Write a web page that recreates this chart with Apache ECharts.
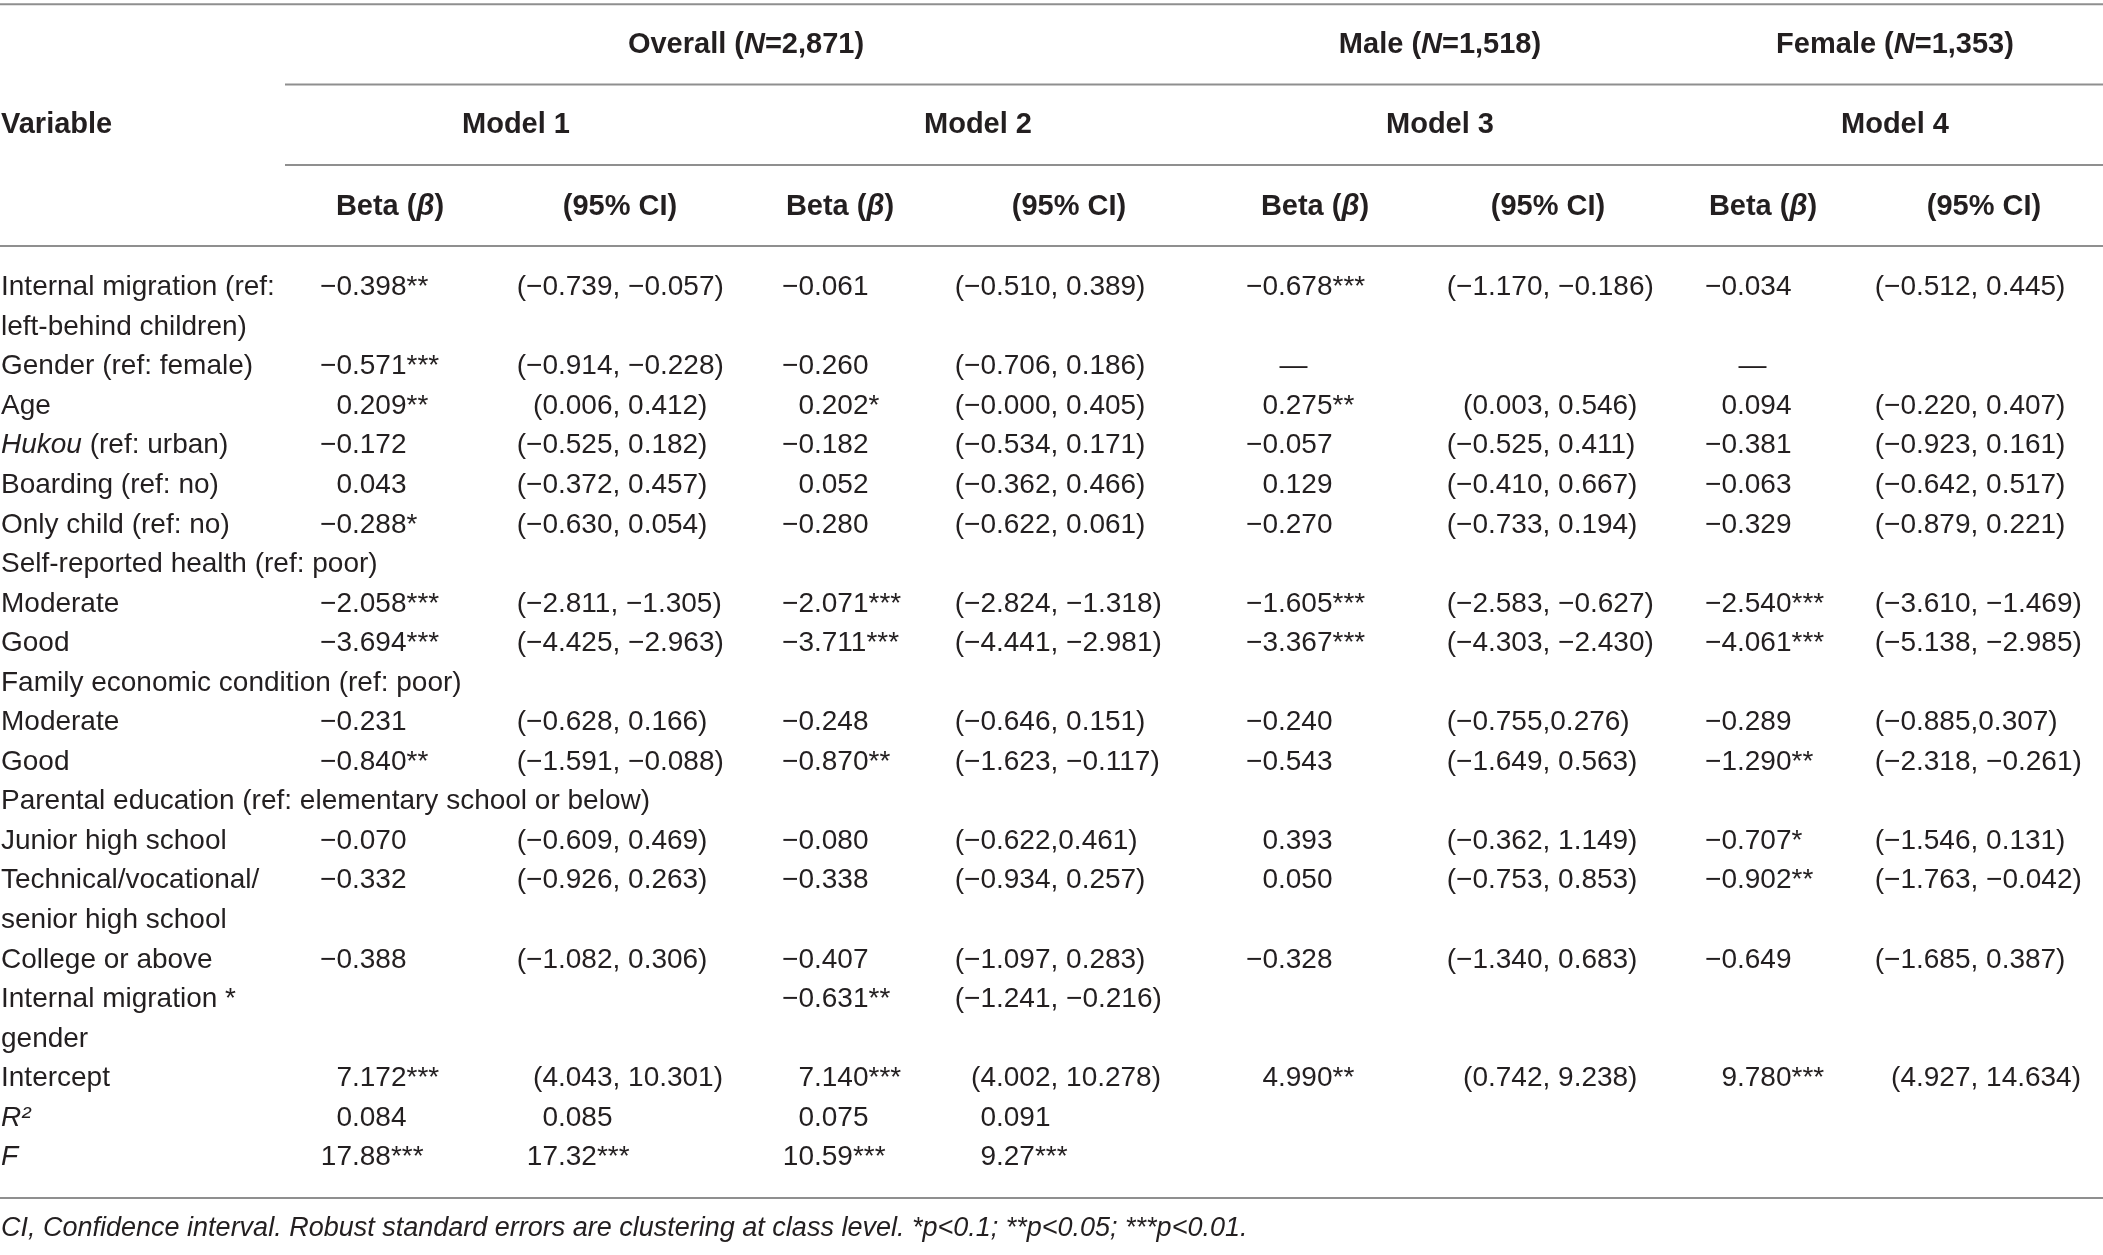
<!DOCTYPE html>
<html>
<head>
<meta charset="utf-8">
<title>Internal migration regression table</title>
<script src="https://cdn.jsdelivr.net/npm/echarts@6/dist/echarts.min.js"></script>
<style>
  html, body { margin: 0; padding: 0; background: #ffffff; }
  #main { width: 2103px; height: 1255px; }
</style>
</head>
<body>
<div id="main"></div>
<script>
// ---- table content, one entry per printed line ----
const variableLines = [
    'Internal migration (ref:', 'left-behind children)', 'Gender (ref: female)', 'Age',
    '{i|Hukou} (ref: urban)', 'Boarding (ref: no)', 'Only child (ref: no)',
    'Self-reported health (ref: poor)', 'Moderate', 'Good',
    'Family economic condition (ref: poor)', 'Moderate', 'Good',
    'Parental education (ref: elementary school or below)', 'Junior high school',
    'Technical/vocational/', 'senior high school', 'College or above',
    'Internal migration *', 'gender', 'Intercept', '{i|R²}', '{i|F}'
]
const model1Beta = ['−0.398**', '', '−0.571***', '0.209**', '−0.172', '0.043', '−0.288*', '',
    '−2.058***', '−3.694***', '', '−0.231', '−0.840**', '', '−0.070', '−0.332', '',
    '−0.388', '', '', '7.172***', '0.084', '17.88***']
const model1CI = ['(−0.739, −0.057)', '', '(−0.914, −0.228)', '(0.006, 0.412)', '(−0.525, 0.182)',
    '(−0.372, 0.457)', '(−0.630, 0.054)', '', '(−2.811, −1.305)', '(−4.425, −2.963)', '',
    '(−0.628, 0.166)', '(−1.591, −0.088)', '', '(−0.609, 0.469)', '(−0.926, 0.263)', '',
    '(−1.082, 0.306)', '', '', '(4.043, 10.301)', '0.085', '17.32***']
const model2Beta = ['−0.061', '', '−0.260', '0.202*', '−0.182', '0.052', '−0.280', '',
    '−2.071***', '−3.711***', '', '−0.248', '−0.870**', '', '−0.080', '−0.338', '',
    '−0.407', '−0.631**', '', '7.140***', '0.075', '10.59***']
const model2CI = ['(−0.510, 0.389)', '', '(−0.706, 0.186)', '(−0.000, 0.405)', '(−0.534, 0.171)',
    '(−0.362, 0.466)', '(−0.622, 0.061)', '', '(−2.824, −1.318)', '(−4.441, −2.981)', '',
    '(−0.646, 0.151)', '(−1.623, −0.117)', '', '(−0.622,0.461)', '(−0.934, 0.257)', '',
    '(−1.097, 0.283)', '(−1.241, −0.216)', '', '(4.002, 10.278)', '0.091', '9.27***']
const model3Beta = ['−0.678***', '', '—', '0.275**', '−0.057', '0.129', '−0.270', '',
    '−1.605***', '−3.367***', '', '−0.240', '−0.543', '', '0.393', '0.050', '',
    '−0.328', '', '', '4.990**', '', '']
const model3CI = ['(−1.170, −0.186)', '', '', '(0.003, 0.546)', '(−0.525, 0.411)',
    '(−0.410, 0.667)', '(−0.733, 0.194)', '', '(−2.583, −0.627)', '(−4.303, −2.430)', '',
    '(−0.755,0.276)', '(−1.649, 0.563)', '', '(−0.362, 1.149)', '(−0.753, 0.853)', '',
    '(−1.340, 0.683)', '', '', '(0.742, 9.238)', '', '']
const model4Beta = ['−0.034', '', '—', '0.094', '−0.381', '−0.063', '−0.329', '',
    '−2.540***', '−4.061***', '', '−0.289', '−1.290**', '', '−0.707*', '−0.902**', '',
    '−0.649', '', '', '9.780***', '', '']
const model4CI = ['(−0.512, 0.445)', '', '', '(−0.220, 0.407)', '(−0.923, 0.161)',
    '(−0.642, 0.517)', '(−0.879, 0.221)', '', '(−3.610, −1.469)', '(−5.138, −2.985)', '',
    '(−0.885,0.307)', '(−2.318, −0.261)', '', '(−1.546, 0.131)', '(−1.763, −0.042)', '',
    '(−1.685, 0.387)', '', '', '(4.927, 14.634)', '', '']

const groupHeaders = ['Overall ({ni|N}=2,871)', 'Male ({ni|N}=1,518)', 'Female ({ni|N}=1,353)']
const modelHeaders = ['Model 1', 'Model 2', 'Model 3', 'Model 4']
const subHeaders = ['Beta ({bi|β})', '(95% CI)']
const footnote = '{i|CI, Confidence interval. Robust standard errors are clustering at class level. *p<0.1; **p<0.05; ***p<0.01.}'

// ---- layout (x in px along the axis, y in printed-line units) ----
const colAnchor = [1, 352, 558, 814, 996, 1278, 1488, 1737, 1916]   // left edge / decimal point
const groupX = [746, 1440, 1895]
const modelX = [516, 978, 1440, 1895]
const subX = [390, 620, 840, 1069, 1315, 1548, 1763, 1984]
const groupLine = -6.12, modelLine = -4.10, subLine = -2.04, footLine = 23.78
const rules = [
    [0, 2103, -7.16], [285, 2103, -5.13], [285, 2103, -3.10], [0, 2103, -1.05], [0, 2103, 23.02]
]

const fam = '"Liberation Sans", Arial, Helvetica, sans-serif'
const bodyFont = '28px ' + fam
const headFont = 'bold 29px ' + fam
const footFont = 'italic 27px ' + fam
const ink = '#231f20'
const ruleColor = '#8f8f8f'
const rich = {
    i: { font: 'italic 28px ' + fam, fill: ink },
    ni: { font: 'bold italic 29px ' + fam, fill: ink },
    bi: { font: 'bold italic 29px ' + fam, fill: ink }
}
const footRich = { i: { font: footFont, fill: ink } }

const measureCtx = document.createElement('canvas').getContext('2d')
function textWidth (s, font) {
    measureCtx.font = font
    return measureCtx.measureText(s).width
}

// body cells
const columns = [variableLines, model1Beta, model1CI, model2Beta, model2CI,
    model3Beta, model3CI, model4Beta, model4CI]
const cells = []
columns.forEach(function (col, c) {
    col.forEach(function (text, line) {
        if (text !== '') cells.push({ col: c, line: line, text: text })
    })
})

// header texts
const heads = []
groupHeaders.forEach(function (t, i) { heads.push({ text: t, x: groupX[i], line: groupLine, align: 'center' }) })
modelHeaders.forEach(function (t, i) { heads.push({ text: t, x: modelX[i], line: modelLine, align: 'center' }) })
subX.forEach(function (x, i) { heads.push({ text: subHeaders[i % 2], x: x, line: subLine, align: 'center' }) })
heads.push({ text: 'Variable', x: 1, line: modelLine, align: 'left' })

const chart = echarts.init(document.getElementById('main'))

const option = {
    animation: false,
    backgroundColor: '#ffffff',
    grid: { left: 0, right: 0, top: 0, bottom: 0, containLabel: false },
    xAxis: { type: 'value', min: 0, max: 2103, show: false },
    yAxis: { type: 'value', min: -7.269, max: 24.463, inverse: true, show: false },
    series: [
        {
            type: 'custom',
            name: 'rules',
            silent: true,
            data: rules,
            renderItem: function (params, api) {
                const a = api.coord([api.value(0), api.value(2)])
                const b = api.coord([api.value(1), api.value(2)])
                return {
                    type: 'line',
                    shape: { x1: a[0], y1: a[1], x2: b[0], y2: b[1] },
                    style: { stroke: ruleColor, lineWidth: 2 }
                }
            }
        },
        {
            type: 'custom',
            name: 'header',
            silent: true,
            data: heads.map(function (h) { return [h.x, h.line] }),
            renderItem: function (params, api) {
                const h = heads[params.dataIndex]
                const p = api.coord([api.value(0), api.value(1)])
                return {
                    type: 'text',
                    x: p[0],
                    y: p[1],
                    style: {
                        text: h.text, rich: rich, font: headFont, fill: ink,
                        align: h.align, verticalAlign: 'middle'
                    }
                }
            }
        },
        {
            type: 'custom',
            name: 'cells',
            silent: true,
            data: cells.map(function (c) { return [c.col, c.line] }),
            renderItem: function (params, api) {
                const cell = cells[params.dataIndex]
                const p = api.coord([colAnchor[cell.col], cell.line])
                let x = p[0]
                let align = 'left'
                if (cell.col > 0) {
                    // decimal alignment on the first point
                    const dot = cell.text.indexOf('.')
                    if (dot >= 0) {
                        x -= textWidth(cell.text.slice(0, dot), bodyFont)
                    } else {
                        x += textWidth('0', bodyFont)
                        align = 'center'
                    }
                }
                return {
                    type: 'text',
                    x: x,
                    y: p[1],
                    style: {
                        text: cell.text, rich: rich, font: bodyFont, fill: ink,
                        align: align, verticalAlign: 'middle'
                    }
                }
            }
        },
        {
            type: 'custom',
            name: 'footnote',
            silent: true,
            data: [[1, footLine]],
            renderItem: function (params, api) {
                const p = api.coord([api.value(0), api.value(1)])
                return {
                    type: 'text',
                    x: p[0],
                    y: p[1],
                    style: {
                        text: footnote, rich: footRich, font: footFont, fill: ink,
                        align: 'left', verticalAlign: 'middle'
                    }
                }
            }
        }
    ]
}
option && chart.setOption(option)
</script>
</body>
</html>
